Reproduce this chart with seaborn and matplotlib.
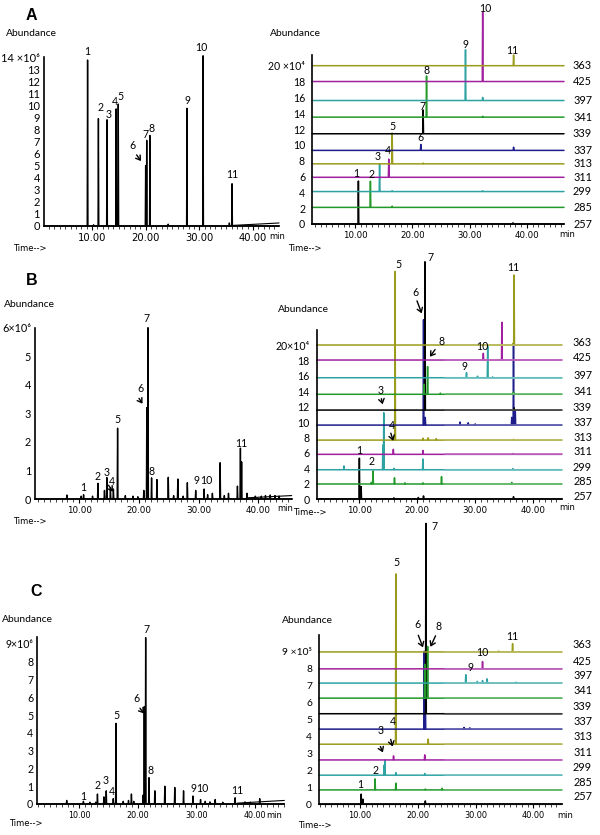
import numpy as np
import pandas as pd
import matplotlib
matplotlib.use("Agg")
import matplotlib.pyplot as plt
import seaborn as sns
from matplotlib.ticker import MultipleLocator
from matplotlib.transforms import blended_transform_factory
from matplotlib.colors import to_rgb

sns.set_theme(style="ticks")
plt.rcParams['font.family'] = ['DejaVu Sans']

# ---------------- data ----------------
MZ = ["257", "285", "299", "311", "313", "337", "339", "341", "397", "425", "363"]
TRACE_COLORS = ["#000000", "#23992a", "#2fa3a3", "#a0209f", "#9c9c1c",
                "#1d1d8c", "#000000", "#23992a", "#2fa3a3", "#a0209f", "#9c9c1c"]

# Panel A, total ion chromatogram (x10^6)
A_tic_rt = [9.18, 10.3, 11.2, 12.8, 14.5, 14.9, 20.0, 20.2, 20.8, 24.2, 27.7, 30.7, 35.6, 36.1]
A_tic_h = [13.75, 0.1, 8.9, 8.8, 9.7, 10.1, 5.0, 7.1, 7.5, 0.15, 9.75, 14.1, 0.25, 3.5]
A_drift_rt = [36.3, 44.85]
A_drift_h = [0.05, 0.25]

# Panel A, SIM traces (x10^4)
A_base = [0, 2.1, 4.1, 5.9, 7.6, 9.3, 11.4, 13.5, 15.6, 18.0, 20.0]
A_sim_rt = [[10.6, 37.6], [12.7, 16.5], [14.3, 16.5, 32.3], [15.9], [16.5, 21.9],
            [21.5, 37.7], [21.9], [22.5, 32.3], [29.3, 32.3], [32.3], [37.7]]
A_sim_h = [[5.43, 0.15], [3.3, 0.15], [3.5, 0.1, 0.1], [2.3], [3.9, 0.1],
           [0.75, 0.4], [3.0], [5.2, 0.1], [6.4, 0.4], [8.75], [1.35]]

# Panel B, TIC (x10^6)
B_tic_rt = [7.9, 10.3, 10.7, 12.2, 13.1, 14.2, 14.6, 15.2, 15.7, 16.4, 17.7, 19.0, 19.8,
            20.8, 21.3, 21.5, 22.1, 23.0, 24.9, 25.8, 26.5, 27.4, 28.1, 29.5, 30.9, 31.5,
            32.3, 33.6, 34.3, 35.0, 36.5, 37.0, 37.2, 38.1, 39.5, 40.5, 41.2, 42.0, 42.8, 43.5]
B_tic_h = [0.14, 0.1, 0.15, 0.1, 0.55, 0.3, 0.75, 0.4, 0.35, 2.48, 0.12, 0.1, 0.08,
           0.3, 3.2, 6.0, 0.74, 0.68, 0.76, 0.12, 0.7, 0.1, 0.57, 0.3, 0.35, 0.15,
           0.2, 1.27, 0.12, 0.2, 0.45, 1.78, 1.3, 0.2, 0.1, 0.1, 0.12, 0.14, 0.12, 0.1]
B_drift_rt = [38.0, 45.6]
B_drift_h = [0.04, 0.12]

# Panel B, SIM traces (x10^4)
B_base = [0, 1.95, 3.8, 5.8, 7.65, 9.6, 11.55, 13.6, 15.75, 18.05, 20.0]
B_sim_rt = [[10.05, 10.35, 16.0, 20.2, 21.1, 36.6],
            [12.1, 12.4, 16.1, 17.9, 21.0, 24.2, 36.3],
            [7.4, 14.1, 14.25, 16.0, 21.0, 36.5],
            [15.9, 21.0, 36.5],
            [16.2, 21.0, 21.9, 23.3, 36.6],
            [21.1, 21.4, 27.4, 28.8, 30.0, 36.3, 36.6, 36.9],
            [21.35, 36.7],
            [21.2, 21.8, 24.0, 36.6],
            [28.5, 30.4, 32.15, 33.0],
            [31.4, 34.6],
            [36.5, 36.7]]
B_sim_h = [[5.3, 1.6, 0.15, 0.2, 0.4, 0.3],
           [0.2, 1.7, 0.8, 0.15, 0.15, 0.95, 0.2],
           [0.5, 3.2, 7.4, 0.2, 1.4, 0.15],
           [0.65, 0.5, 0.1],
           [21.9, 0.25, 0.3, 0.2, 0.1],
           [13.7, 1.0, 0.4, 0.3, 0.15, 1.0, 10.4, 2.0],
           [19.26, 0.3],
           [1.3, 3.6, 0.15, 0.3],
           [0.65, 0.2, 4.1, 0.1],
           [0.87, 4.9],
           [0.2, 9.1]]

# Panel C, TIC (x10^6)
C_tic_rt = [7.85, 10.7, 11.8, 12.8, 13.1, 14.2, 14.6, 15.8, 16.26, 17.5, 18.4, 18.9, 19.3,
            20.9, 21.09, 21.33, 21.9, 22.9, 24.6, 26.3, 27.8, 29.4, 30.7, 31.5, 32.3, 33.2,
            34.5, 36.6, 38.3, 39.2, 40.8]
C_tic_h = [0.2, 0.15, 0.1, 0.1, 0.56, 0.4, 0.74, 0.3, 4.53, 0.15, 0.2, 0.56, 0.15,
           0.5, 5.47, 9.35, 1.48, 0.74, 1.0, 0.93, 0.74, 0.45, 0.25, 0.15, 0.12, 0.25,
           0.1, 0.35, 0.12, 0.1, 0.3]
C_drift_rt = [37.0, 45.0]
C_drift_h = [0.05, 0.2]

# Panel C, SIM traces (x10^5)
C_base = [0, 0.85, 1.72, 2.62, 3.55, 4.44, 5.35, 6.27, 7.16, 8.0, 9.0]
C_sim_rt = [[10.2, 10.5, 21.3],
            [12.6, 16.2, 21.3, 24.2],
            [14.2, 14.3, 16.2, 21.2],
            [15.8, 21.2],
            [16.2, 21.8],
            [21.1, 21.3, 28.0, 29.0],
            [21.4],
            [21.2, 21.7],
            [28.3, 30.3, 31.2, 32.0, 37.0],
            [31.2],
            [34.0, 36.4]]
C_sim_h = [[0.6, 0.3, 0.2],
           [0.65, 0.4, 0.05, 0.1],
           [0.6, 0.9, 0.15, 0.1],
           [0.24, 0.3],
           [10.06, 0.3],
           [4.6, 2.0, 0.1, 0.08],
           [11.24],
           [2.0, 3.05],
           [0.49, 0.1, 0.15, 0.25, 0.05],
           [0.43],
           [0.05, 0.49]]

X_TICKS = [10, 20, 30, 40]
X_TICKLABELS = ["10.00", "20.00", "30.00", "40.00"]

# ---------------- figure ----------------
W, H = 600, 835
fig = plt.figure(figsize=(6, 8.35), dpi=100)
LABEL_FONT = ['Lato', 'DejaVu Sans']


def px_axes(l, t, r, b):
    ax = fig.add_axes([l / W, 1 - b / H, (r - l) / W, (b - t) / H])
    ax.patch.set_alpha(0)
    return ax


def draw_trace(ax, rts, hs, base, xlim, color, lw=1.0, w=0.07, split=None):
    order = np.argsort(rts)
    xs, ys = [xlim[0]], [base]
    for i in order:
        xs += [rts[i] - w, rts[i], rts[i] + w]
        ys += [base, base + hs[i], base]
    xs.append(xlim[1])
    ys.append(base)
    df = pd.DataFrame({"t": xs, "a": ys})
    sns.lineplot(data=df, x="t", y="a", sort=False, estimator=None,
                 color=color, lw=lw, ax=ax, clip_on=False)
    if split is not None:
        c = np.array(to_rgb(color))
        light = tuple(c + (1 - c) * 0.35)
        seg = pd.DataFrame({"t": [split, xlim[1]], "a": [base, base]})
        sns.lineplot(data=seg, x="t", y="a", sort=False, estimator=None,
                     color=light, lw=lw, ax=ax, clip_on=False)


def draw_drift(ax, rts, hs, color="black"):
    df = pd.DataFrame({"t": rts, "a": hs})
    sns.lineplot(data=df, x="t", y="a", sort=False, estimator=None,
                 color=color, lw=0.8, ax=ax, clip_on=False)


def style(ax, xlim, ylim, yticks, yticklabels, xsize, ysize=7.4, ypad=3):
    ax.set_xlim(xlim)
    ax.set_ylim(ylim)
    ax.set_xlabel("")
    ax.set_ylabel("")
    for s in ["top", "right"]:
        ax.spines[s].set_visible(False)
    for s in ["left", "bottom"]:
        ax.spines[s].set_linewidth(1.2)
        ax.spines[s].set_color("black")
    ax.set_xticks(X_TICKS)
    ax.set_xticklabels(X_TICKLABELS, fontsize=xsize, family=['DejaVu Sans'])
    ax.xaxis.set_minor_locator(MultipleLocator(1))
    ax.tick_params(axis="x", which="major", length=3, width=0.8, pad=2,
                   colors="black", direction="out")
    ax.tick_params(axis="x", which="minor", length=2, width=0.6, direction="out")
    ax.set_yticks(yticks)
    ax.set_yticklabels(yticklabels, fontsize=ysize, family=LABEL_FONT)
    ax.tick_params(axis="y", length=0, pad=ypad, colors="black")


def ftext(s, x, y, size=7.6, family=None, weight="normal", ha="center", va="center"):
    fig.text(x / W, 1 - y / H, s, fontsize=size, family=family or LABEL_FONT,
             weight=weight, ha=ha, va=va, color="black")


def farrow(p0, p1):
    fig.add_artist(matplotlib.patches.FancyArrowPatch(
        (p0[0] / W, 1 - p0[1] / H), (p1[0] / W, 1 - p1[1] / H),
        transform=fig.transFigure, arrowstyle="->,head_length=3,head_width=2",
        lw=1.0, color="black", mutation_scale=1))


def mz_labels(ax, bases, dy):
    tr = blended_transform_factory(fig.transFigure, ax.transData)
    for m, b in zip(MZ, bases):
        ax.text(582.5 / W, b + dy, m, transform=tr, ha="center", va="center",
                fontsize=7.8, family=LABEL_FONT, color="black")


def panel_texts(title, tpos, abund_l, abund_r, time_l, time_r, min_l, min_r):
    ftext(title, *tpos, size=11.5, family=['Liberation Sans', 'DejaVu Sans'], weight="bold")
    for p in (abund_l, abund_r):
        ftext("Abundance", *p, size=7.4)
    for p in (time_l, time_r):
        ftext("Time-->", *p, size=6.0, family=['DejaVu Sans'])
    for p in (min_l, min_r):
        ftext("min", *p, size=6.0, family=['DejaVu Sans'])


def sci(top, exp, space=" "):
    sup = {"4": "⁴", "5": "⁵", "6": "⁶"}[str(exp)]
    return f"{top}{space}×10{sup}"


# ======== Panel A ========
xlA1 = (1.06, 44.85)
axA1 = px_axes(44, 57, 279, 226)
draw_trace(axA1, A_tic_rt, A_tic_h, 0, xlA1, "black", lw=1.0)
draw_drift(axA1, A_drift_rt, A_drift_h)
style(axA1, xlA1, (0, 14), list(range(15)),
      [str(i) for i in range(14)] + [sci(14, 6)], xsize=7.2, ysize=7.9)

xlA2 = (2.5, 46.5)
axA2 = px_axes(312, 55, 564, 224)
for i in range(len(MZ)):
    draw_trace(axA2, A_sim_rt[i], A_sim_h[i], A_base[i], xlA2, TRACE_COLORS[i], lw=1.1)
style(axA2, xlA2, (0, 21.35), list(range(0, 21, 2)),
      [str(i) for i in range(0, 20, 2)] + [sci(20, 4)], xsize=6.2, ysize=7.6, ypad=5)
mz_labels(axA2, A_base, 0)

panel_texts("A", (31, 16), (31, 34), (295.5, 33), (30, 248), (305, 248),
            (277, 236.5), (567, 234))
for s, x, y in [("1", 87.7, 51.7), ("2", 100.3, 107.7), ("3", 109, 114), ("4", 115.3, 101.7),
                ("5", 120.3, 96.7), ("6", 132.7, 145.3), ("7", 145.7, 134), ("8", 151.7, 128.7),
                ("9", 187.7, 100.7), ("10", 201.3, 47.3), ("11", 232.3, 175)]:
    ftext(s, x, y)
farrow((135, 152.7), (142.7, 163.3))
for s, x, y in [("1", 356.7, 173.5), ("2", 371.3, 174.5), ("3", 378, 156.7), ("4", 387.7, 150),
                ("5", 392, 126), ("6", 420.3, 137.3), ("7", 422.7, 106), ("8", 426.7, 70.7),
                ("9", 465.3, 44), ("10", 485.3, 9), ("11", 512.3, 50)]:
    ftext(s, x, y)

# ======== Panel B ========
xlB1 = (2.6, 45.6)
axB1 = px_axes(35.3, 327.7, 291.7, 499)
draw_trace(axB1, B_tic_rt, B_tic_h, 0, xlB1, "black", lw=1.0)
draw_drift(axB1, B_drift_rt, B_drift_h)
style(axB1, xlB1, (0, 6.0), list(range(7)),
      [str(i) for i in range(6)] + [sci(6, 6, "")], xsize=6.3, ysize=7.8)

xlB2 = (2.7, 44.9)
axB2 = px_axes(316.7, 330, 561.7, 499)
for i in range(len(MZ)):
    draw_trace(axB2, B_sim_rt[i], B_sim_h[i], B_base[i], xlB2, TRACE_COLORS[i],
               lw=1.1, split=24.8)
style(axB2, xlB2, (0, 21.95), list(range(0, 21, 2)),
      [str(i) for i in range(0, 20, 2)] + [sci(20, 4, "")], xsize=6.3, ysize=7.6, ypad=5)
mz_labels(axB2, B_base, 0.32)

panel_texts("B", (31.7, 280.7), (29.5, 304.3), (303.5, 309), (29.7, 521), (310, 512.3),
            (285, 508.3), (567.3, 507.7))
for s, x, y in [("1", 83, 487.7), ("2", 97.3, 476.7), ("3", 106.7, 472.3), ("4", 111.7, 481.7),
                ("5", 117.7, 419), ("6", 140, 389), ("7", 147, 319), ("8", 151.7, 471.7),
                ("9", 196.7, 481), ("10", 206.7, 481), ("11", 241.3, 443.3)]:
    ftext(s, x, y)
farrow((137.5, 396), (144, 406))
farrow((107, 483), (114.5, 494))
for s, x, y in [("1", 359.3, 450.7), ("2", 371.7, 461.7), ("3", 381, 390), ("4", 392.3, 425.7),
                ("5", 398.7, 265), ("6", 415.7, 292.7), ("7", 431, 257.3), ("8", 441.7, 341.7),
                ("9", 464, 366), ("10", 482.3, 346), ("11", 513.7, 267.7)]:
    ftext(s, x, y)
farrow((380.7, 396), (383.3, 407))
farrow((390, 430.5), (394, 443.5))
farrow((416, 298.3), (422.7, 316))
farrow((436.7, 347.3), (428.3, 359))

# ======== Panel C ========
xlC1 = (2.83, 45.0)
axC1 = px_axes(37.3, 636.7, 284.3, 804)
draw_trace(axC1, C_tic_rt, C_tic_h, 0, xlC1, "black", lw=1.0)
draw_drift(axC1, C_drift_rt, C_drift_h)
style(axC1, xlC1, (0, 9.4), list(range(10)),
      [str(i) for i in range(9)] + [sci(9, 6, "")], xsize=5.8, ysize=7.6)

xlC2 = (2.9, 44.9)
axC2 = px_axes(319, 635, 561.7, 804.3)
for i in range(len(MZ)):
    draw_trace(axC2, C_sim_rt[i], C_sim_h[i], C_base[i], xlC2, TRACE_COLORS[i],
               lw=1.1, split=24.7)
style(axC2, xlC2, (0, 10.0), list(range(10)),
      [str(i) for i in range(9)] + [sci(9, 5)], xsize=5.9, ysize=7.4, ypad=5)
mz_labels(axC2, C_base, 0.44)

panel_texts("C", (36, 591.7), (27.5, 619), (307, 620.7), (25.3, 823.3), (315, 826),
            (274, 815), (565, 815.7))
for s, x, y in [("1", 83.3, 796), ("2", 97.3, 785.7), ("3", 106, 780.7), ("4", 111.7, 791.7),
                ("5", 116.7, 715.7), ("6", 136.3, 699), ("7", 146, 629.3), ("8", 150.7, 770),
                ("9", 193.5, 788.3), ("10", 202.5, 788.3), ("11", 237.7, 790)]:
    ftext(s, x, y)
farrow((138.3, 706), (145.7, 715.7))
for s, x, y in [("1", 360, 784.3), ("2", 375.7, 770), ("3", 381, 730), ("4", 393.3, 721.7),
                ("5", 396.7, 562.7), ("6", 417.3, 624.3), ("7", 434, 526.7), ("8", 439, 626),
                ("9", 471, 667.7), ("10", 482.3, 652.3), ("11", 512.7, 636.7)]:
    ftext(s, x, y)
farrow((379.3, 744), (384, 755))
farrow((390, 736.7), (393.3, 749.3))
farrow((417.3, 632.7), (424, 650))
farrow((436.7, 633.3), (429.3, 649.3))

fig.savefig("out.png", dpi=100)
